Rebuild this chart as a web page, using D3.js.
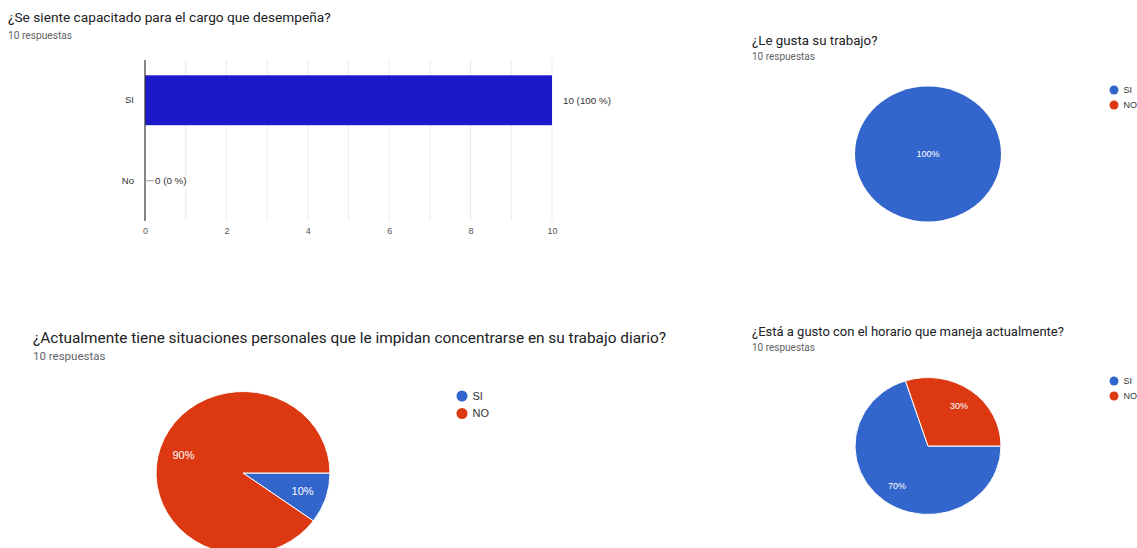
<!DOCTYPE html>
<html>
<head>
<meta charset="utf-8">
<script src="https://cdn.jsdelivr.net/npm/d3@7"></script>
<style>
  html, body { margin: 0; padding: 0; background: #fff; }
  svg { display: block; }
  .title { font-family: Roboto, "Liberation Sans", Arial, sans-serif; fill: #202124; }
  .sub { font-family: Roboto, "Liberation Sans", Arial, sans-serif; fill: #5f6368; }
  .chart { font-family: "Liberation Sans", Arial, sans-serif; }
</style>
</head>
<body>
<svg id="root" width="1137" height="548"></svg>
<script>
// ---- data ----
const barQuestion = "¿Se siente capacitado para el cargo que desempeña?";
const barCategories = ["SI", "No"];
const barValues = [10, 0];
const barTicks = [0, 2, 4, 6, 8, 10];

const pieLabels = ["SI", "NO"];
const pieColors = ["#3366cc", "#dc3912"];

const q2Question = "¿Le gusta su trabajo?";
const q2Values = [10, 0];

const q3Question = "¿Actualmente tiene situaciones personales que le impidan concentrarse en su trabajo diario?";
const q3Values = [1, 9];

const q4Question = "¿Está a gusto con el horario que maneja actualmente?";
const q4Values = [7, 3];

const responsesText = "10 respuestas";

const svg = d3.select("#root");
svg.append("rect").attr("width", 1137).attr("height", 548).attr("fill", "#fff");

// ---- horizontal bar chart ----
(function drawBar() {
  const g = svg.append("g").attr("class", "chart");
  svg.append("text").attr("class", "title").attr("x", 8).attr("y", 22)
    .attr("font-size", 13.7).text(barQuestion);
  svg.append("text").attr("class", "sub").attr("x", 8).attr("y", 39)
    .attr("font-size", 10.2).text(responsesText);

  const x = d3.scaleLinear().domain([0, 10]).range([145, 552]);
  const y = d3.scaleBand().domain(barCategories).range([60, 221])
    .paddingInner(0.38).paddingOuter(0.19);
  const total = d3.sum(barValues);

  // vertical gridlines
  g.selectAll("line.grid").data(d3.range(1, 11)).join("line")
    .attr("class", "grid")
    .attr("x1", d => x(d)).attr("x2", d => x(d))
    .attr("y1", 60).attr("y2", 221)
    .attr("stroke", "#ebebeb").attr("stroke-width", 1);

  // bars
  g.selectAll("rect.bar").data(barValues).join("rect")
    .attr("class", "bar")
    .attr("x", x(0))
    .attr("y", (d, i) => y(barCategories[i]))
    .attr("width", d => x(d) - x(0))
    .attr("height", y.bandwidth())
    .attr("fill", "#1c19c9");

  // zero axis
  g.append("line").attr("x1", x(0)).attr("x2", x(0)).attr("y1", 60).attr("y2", 221)
    .attr("stroke", "#333").attr("stroke-width", 1.2);

  // x axis ticks
  const xAxis = d3.axisBottom(x).tickValues(barTicks).tickSize(0).tickPadding(0)
    .tickFormat(d3.format("d"));
  const ax = g.append("g").attr("transform", "translate(0,228)").call(xAxis);
  ax.select(".domain").remove();
  ax.selectAll("text").attr("font-size", 9).attr("fill", "#555")
    .attr("font-family", "Liberation Sans, Arial, sans-serif");

  // category labels
  const yAxis = d3.axisLeft(y).tickSize(0).tickPadding(11);
  const ay = g.append("g").attr("transform", `translate(${x(0)},0)`).call(yAxis);
  ay.select(".domain").remove();
  ay.selectAll("text").attr("font-size", 9.5).attr("fill", "#333")
    .attr("font-family", "Liberation Sans, Arial, sans-serif");

  // value annotations
  barValues.forEach((v, i) => {
    const cy = y(barCategories[i]) + y.bandwidth() / 2;
    const pct = total ? Math.round(v / total * 100) : 0;
    const xe = x(v);
    if (v === 0) {
      g.append("line").attr("x1", xe).attr("x2", xe + 9).attr("y1", cy).attr("y2", cy)
        .attr("stroke", "#999").attr("stroke-width", 1);
    }
    g.append("text").attr("x", xe + (v === 0 ? 10 : 11)).attr("y", cy)
      .attr("dy", "0.35em").attr("font-size", 9.8).attr("fill", "#333")
      .text(`${v} (${pct} %)`);
  });
})();

// ---- pie charts ----
function drawPie(cfg) {
  svg.append("text").attr("class", "title").attr("x", cfg.tx).attr("y", cfg.ty)
    .attr("font-size", cfg.titleSize).text(cfg.question);
  svg.append("text").attr("class", "sub").attr("x", cfg.tx).attr("y", cfg.sy)
    .attr("font-size", cfg.subSize).text(responsesText);

  const data = cfg.values.map((v, i) => ({ label: pieLabels[i], value: v, color: pieColors[i] }));
  const total = d3.sum(cfg.values);
  const pie = d3.pie().value(d => d.value).sort(null)
    .startAngle(Math.PI / 2).endAngle(Math.PI / 2 + 2 * Math.PI);
  const arcs = pie(data).filter(d => d.data.value > 0);
  const arc = d3.arc().innerRadius(0).outerRadius(cfg.ry);
  const sx = cfg.rx / cfg.ry;

  const g = svg.append("g").attr("class", "chart")
    .attr("transform", `translate(${cfg.cx},${cfg.cy}) scale(${sx},1)`);
  g.selectAll("path").data(arcs).join("path")
    .attr("d", arc)
    .attr("fill", d => d.data.color)
    .attr("stroke", arcs.length > 1 ? "#fff" : "none")
    .attr("stroke-width", 1)
    .attr("vector-effect", "non-scaling-stroke");

  const labelArc = d3.arc().innerRadius(cfg.ry * 0.72).outerRadius(cfg.ry * 0.72);
  arcs.forEach(d => {
    let [lx, ly] = labelArc.centroid(d);
    if (d.endAngle - d.startAngle > 2 * Math.PI - 1e-6) { lx = 0; ly = 0; }
    svg.append("text").attr("class", "chart")
      .attr("x", cfg.cx + lx * sx).attr("y", cfg.cy + ly)
      .attr("text-anchor", "middle").attr("dy", "0.35em")
      .attr("font-size", cfg.labelSize).attr("fill", "#fff")
      .text(Math.round(d.data.value / total * 100) + "%");
  });

  const lg = svg.append("g").attr("class", "chart")
    .attr("transform", `translate(${cfg.lx},${cfg.ly})`);
  data.forEach((d, i) => {
    lg.append("circle").attr("cx", 0).attr("cy", i * cfg.lstep).attr("r", cfg.lr)
      .attr("fill", d.color);
    lg.append("text").attr("x", cfg.lr + 5).attr("y", i * cfg.lstep).attr("dy", "0.35em")
      .attr("font-size", cfg.lsize).attr("fill", "#333").text(d.label);
  });
}

drawPie({
  question: q2Question, values: q2Values,
  tx: 752, ty: 45, sy: 60, titleSize: 13.3, subSize: 10,
  cx: 928, cy: 154, rx: 73, ry: 67.5, labelSize: 9,
  lx: 1114, ly: 90, lstep: 15, lr: 4.5, lsize: 9
});

drawPie({
  question: q3Question, values: q3Values,
  tx: 33, ty: 343, sy: 360, titleSize: 15.4, subSize: 11.5,
  cx: 243, cy: 473, rx: 87, ry: 81.5, labelSize: 11,
  lx: 462, ly: 396, lstep: 17.5, lr: 5.5, lsize: 11
});

drawPie({
  question: q4Question, values: q4Values,
  tx: 752, ty: 336, sy: 351, titleSize: 13, subSize: 10,
  cx: 928, cy: 446, rx: 73, ry: 68.5, labelSize: 9,
  lx: 1114, ly: 381, lstep: 15, lr: 4.5, lsize: 9
});
</script>
</body>
</html>
